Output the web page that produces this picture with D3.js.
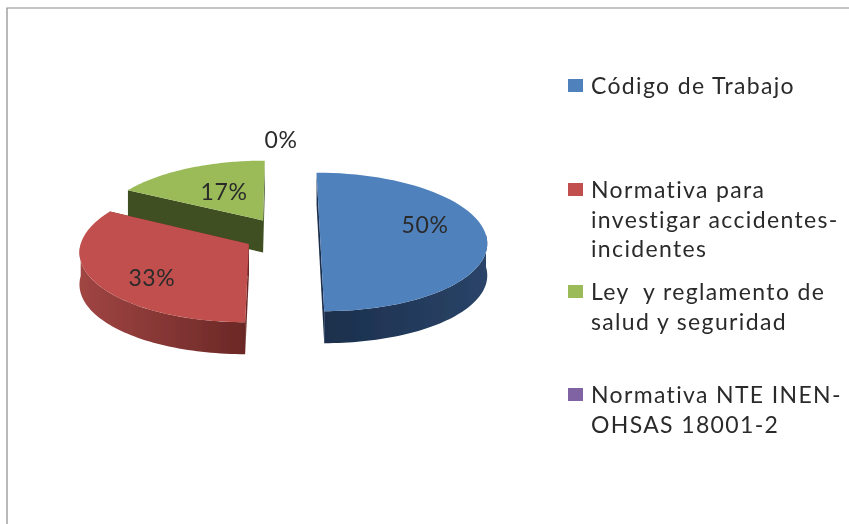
<!DOCTYPE html>
<html>
<head>
<meta charset="utf-8">
<script src="https://cdn.jsdelivr.net/npm/d3@7"></script>
<style>
  html, body { margin: 0; padding: 0; background: #fff; }
  svg { display: block; }
  text { font-family: Lato, "Open Sans", sans-serif; fill: #2b2b2b; }
</style>
</head>
<body>
<div id="chart"></div>
<script>
// Data
const categories = [
  ["Código de Trabajo"],
  ["Normativa para", "investigar accidentes-", "incidentes"],
  ["Ley  y reglamento de", "salud y seguridad"],
  ["Normativa NTE INEN-", "OHSAS 18001-2"]
];
const values = [50, 33, 17, 0];
const valueLabels = ["50%", "33%", "17%", "0%"];
const topColors = ["#4f81bd", "#c0504d", "#9bbb59", "#8064a2"];
const wallDark = ["#1b2f4c", "#6b2826", "#3f5023", "#3f3050"];
const wallLight = ["#2a4468", "#a04543", "#55692f", "#584570"];

const width = 849, height = 524;

const svg = d3.select("#chart").append("svg")
  .attr("width", width)
  .attr("height", height);

// Slightly soft look of the original screenshot
const defs = svg.append("defs");
defs.append("filter").attr("id", "soft")
  .attr("x", "-5%").attr("y", "-5%").attr("width", "110%").attr("height", "110%")
  .append("feGaussianBlur").attr("stdDeviation", 0.45);

const root = svg.append("g").attr("filter", "url(#soft)");

// Frame: only top and left edges are visible
root.append("path")
  .attr("d", d3.line()([[7, height], [7, 8], [width, 8]]))
  .attr("fill", "none")
  .attr("stroke", "#8a8a8a")
  .attr("stroke-width", 1.2);

// 3D pie set up
const cx = 282, cy = 235;
const R = 166, tilt = 0.413, persp = 0.1 / R;
const explode = 38, explodeDepth = 1.1, wall = 32;

const project = (X, Y) => {
  const s = 1 / (1 + persp * Y);
  return [cx + X * s, cy - tilt * Y * s];
};

const arcs = d3.pie().value(d => d).sort(null)(values);

const slices = arcs.map((d, i) => {
  const mid = (d.startAngle + d.endAngle) / 2;
  return {
    i,
    a0: d.startAngle,
    a1: d.endAngle,
    mid,
    ox: explode * Math.sin(mid),
    oy: explode * explodeDepth * Math.cos(mid)
  };
});

const rim = (s, a) => project(s.ox + R * Math.sin(a), s.oy + R * Math.cos(a));
const apex = s => project(s.ox, s.oy);
const down = p => [p[0], p[1] + wall];

const rimPoints = (s, a0, a1) => d3.range(0, 61).map(k => rim(s, a0 + (a1 - a0) * k / 60));
const poly = d3.line();

// Gradient for the curved walls
slices.forEach(s => {
  const g = defs.append("linearGradient").attr("id", "wall" + s.i);
  g.append("stop").attr("offset", "0%").attr("stop-color", s.i === 1 ? wallLight[s.i] : wallDark[s.i]);
  g.append("stop").attr("offset", "100%").attr("stop-color", s.i === 1 ? wallDark[s.i] : wallLight[s.i]);
});

// Back to front: green, red, blue
[2, 1, 0].forEach(i => {
  const s = slices[i];
  const g = root.append("g");

  // flat cut faces
  [s.a0, s.a1].forEach(a => {
    const p = rim(s, a), c = apex(s);
    g.append("path")
      .attr("d", poly([c, p, down(p), down(c)]) + "Z")
      .attr("fill", wallDark[i]);
  });

  // curved wall: the part of the rim that faces the viewer
  const w0 = Math.max(s.a0, Math.PI / 2), w1 = Math.min(s.a1, Math.PI * 1.5);
  if (w1 > w0) {
    const front = rimPoints(s, w0, w1);
    g.append("path")
      .attr("d", poly(front.concat(front.slice().reverse().map(down))) + "Z")
      .attr("fill", `url(#wall${i})`);
  }

  // top surface
  g.append("path")
    .attr("d", poly([apex(s)].concat(rimPoints(s, s.a0, s.a1))) + "Z")
    .attr("fill", topColors[i]);
});

// Value labels, nudged from the slice apex like the original
const labelNudge = [[105, -11], [-97, 33], [-39, -29], [-1, -96]];
root.selectAll(".value")
  .data(slices)
  .join("text")
  .attr("class", "value")
  .attr("x", (d, i) => (i === 3 ? cx : apex(d)[0]) + labelNudge[i][0])
  .attr("y", (d, i) => (i === 3 ? cy : apex(d)[1]) + labelNudge[i][1])
  .attr("text-anchor", "middle")
  .attr("dominant-baseline", "central")
  .style("font-size", "23px")
  .style("letter-spacing", "0.6px")
  .text((d, i) => valueLabels[i]);

// Legend
const legendX = 568, swatch = 14, textX = 591, lineH = 29.5;
const legendTop = [85, 189, 291, 394];

const legend = root.selectAll(".legend")
  .data(categories)
  .join("g")
  .attr("class", "legend")
  .attr("transform", (d, i) => `translate(0,${legendTop[i]})`);

legend.append("rect")
  .attr("x", legendX)
  .attr("y", -swatch / 2 + 1)
  .attr("width", swatch + 1)
  .attr("height", swatch - 1)
  .attr("fill", (d, i) => topColors[i]);

legend.selectAll("text")
  .data(d => d)
  .join("text")
  .attr("x", textX)
  .attr("y", (d, i) => i * lineH)
  .attr("dominant-baseline", "central")
  .style("white-space", "pre")
  .style("font-size", "23px")
  .style("letter-spacing", "1.35px")
  .text(d => d);
</script>
</body>
</html>
